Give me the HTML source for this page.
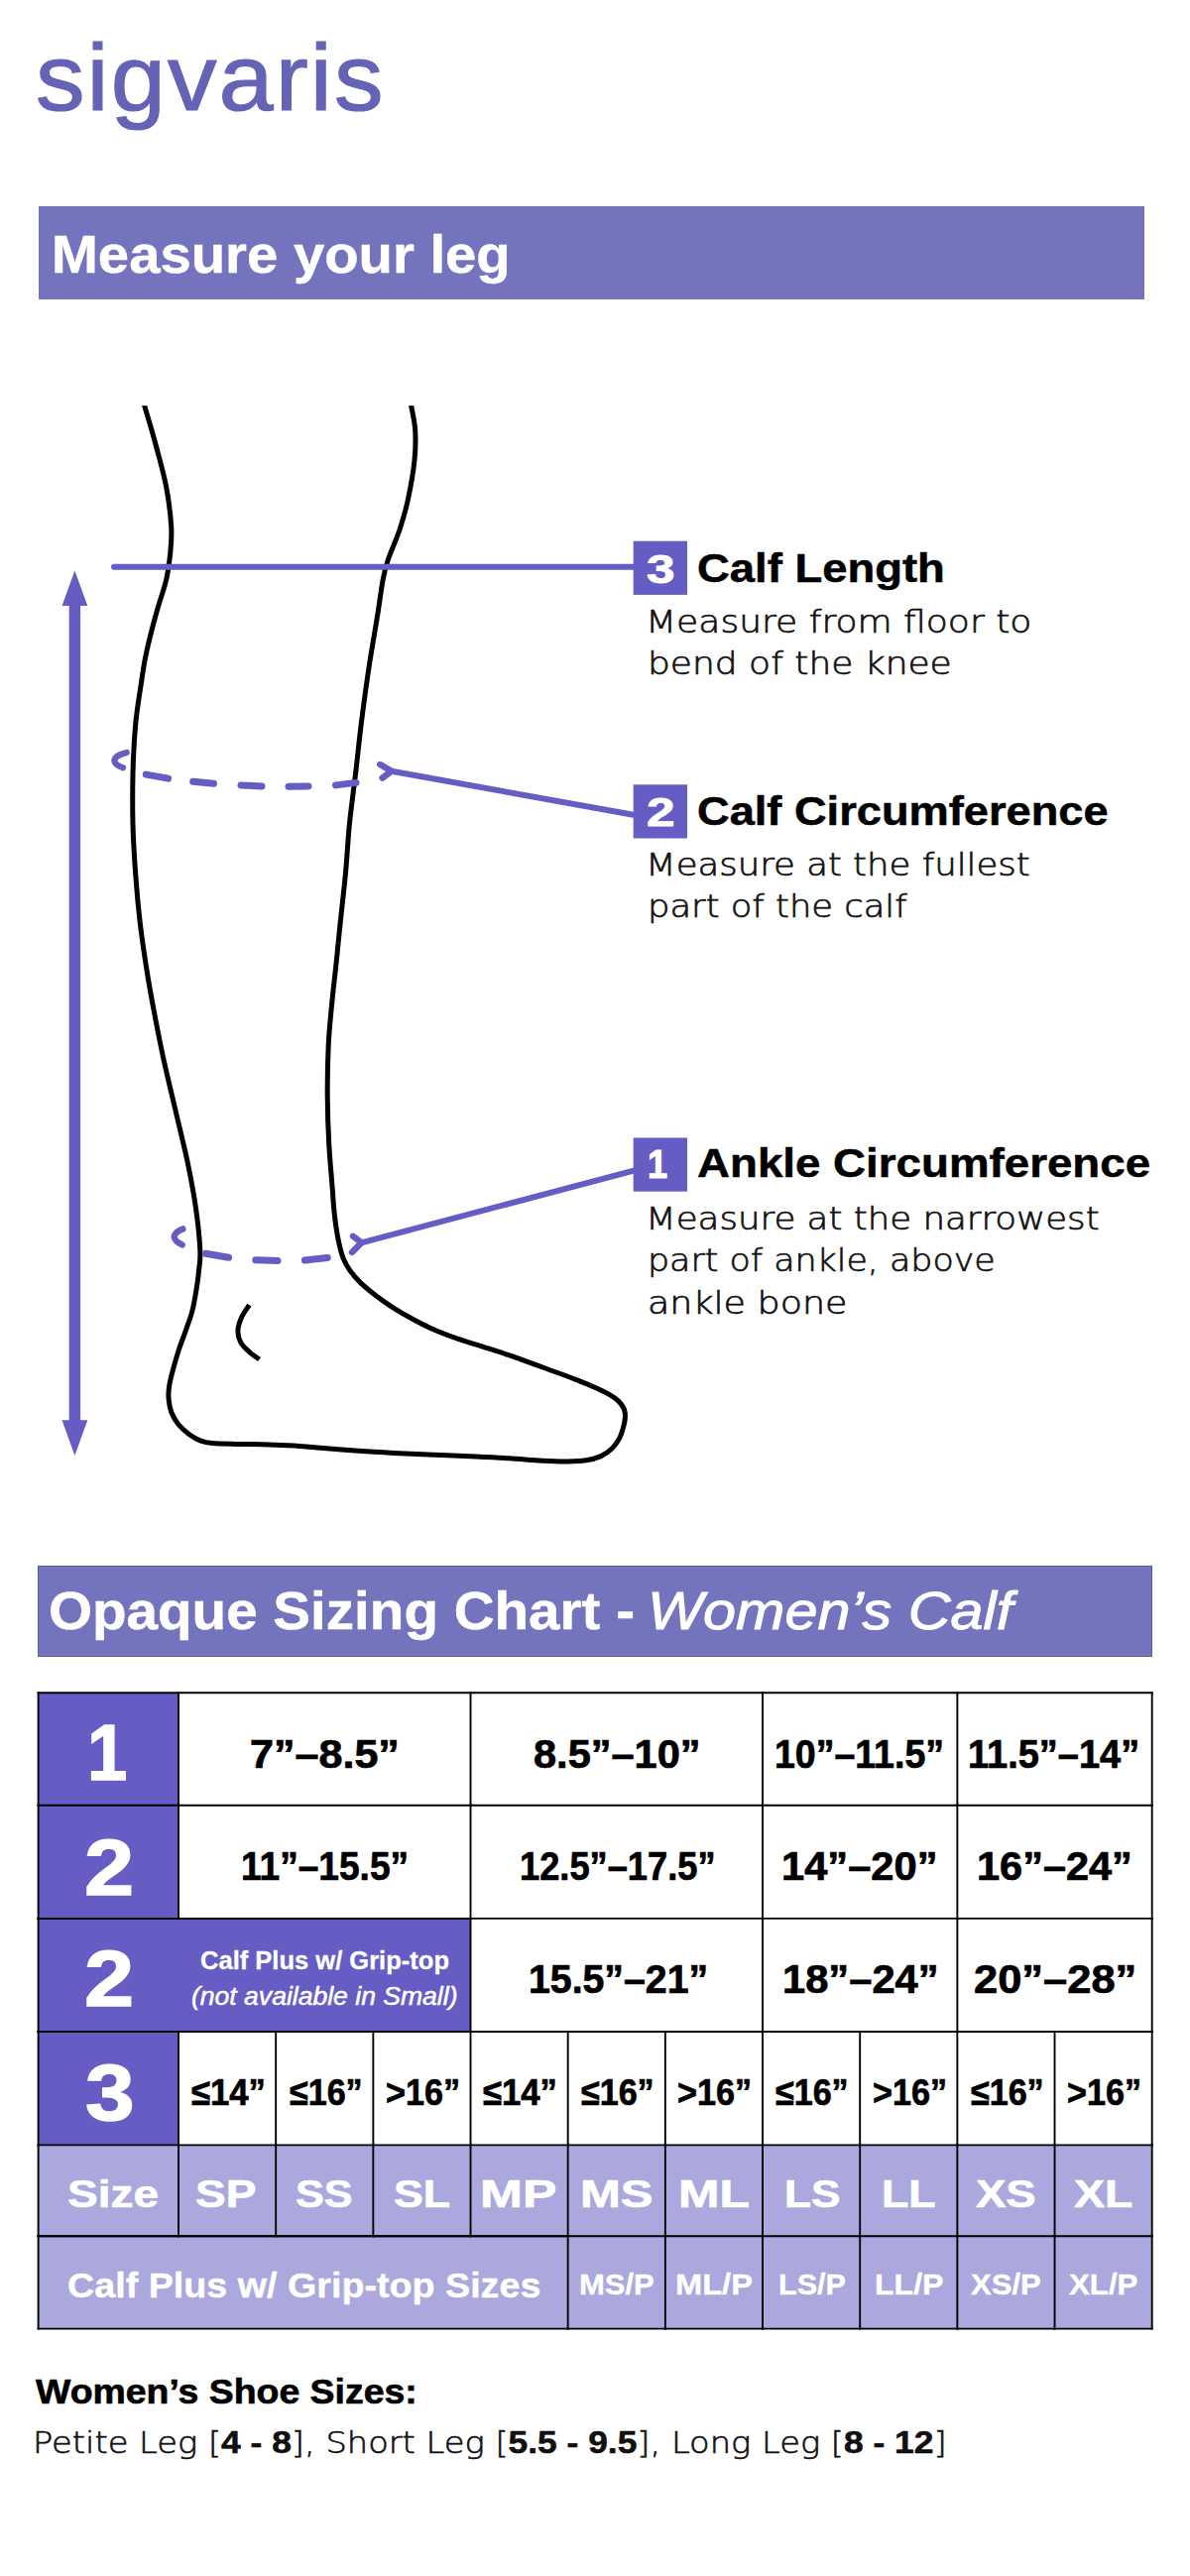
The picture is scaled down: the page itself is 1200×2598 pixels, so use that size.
<!DOCTYPE html>
<html lang="en"><head><meta charset="utf-8"><title>Sigvaris Opaque Sizing Chart - Women's Calf</title>
<style>
*{box-sizing:border-box}
html,body{margin:0;padding:0;background:#fff}
body{width:1200px;height:2598px;position:relative;overflow:hidden;font-family:'Liberation Sans', 'DejaVu Sans', sans-serif;color:#000}
.t{position:absolute;white-space:nowrap;line-height:1;transform-origin:0 50%}
.fb{font-family:'Liberation Sans', 'DejaVu Sans', sans-serif;font-weight:700;}
.fr{font-family:'Liberation Sans', 'DejaVu Sans', sans-serif;font-weight:400;}
.fbi{font-family:'Liberation Sans', 'DejaVu Sans', sans-serif;font-weight:700;font-style:italic;}
.fri{font-family:'Liberation Sans', 'DejaVu Sans', sans-serif;font-weight:400;font-style:italic;}
.fl{font-family:'DejaVu Sans Light', 'DejaVu Sans', 'Liberation Sans', sans-serif;font-weight:200;}
.fl b{font-family:'Liberation Sans', 'DejaVu Sans', sans-serif;font-weight:700;font-size:1.05em;-webkit-text-stroke:0.5px #000}
.w{color:#fff}
.k{color:#000}
.lt{color:#111}
.logo{color:#6563b6}
.banner{position:absolute;left:38px;width:1116px;background:#7473be}
.art{position:absolute;left:0;top:380px}
.tbl{position:absolute;left:0;top:1690px}
</style></head>
<body>
<div class="banner" style="left:38.5px;top:207.7px;width:1115.5px;height:94.5px"></div>
<div class="banner" style="left:37.6px;top:1578.7px;height:92.2px;width:1124.6px;border:1px solid #5e5d96"></div>
<svg class="art" width="1200" height="1150" viewBox="0 380 1200 1150">
<g fill="#655cc4" stroke="none">
<rect x="69.7" y="608" width="11.4" height="826"/>
<polygon points="75.4,575.5 88.3,611 62.5,611"/>
<polygon points="75.4,1468 88.3,1432.3 62.5,1432.3"/>
</g>
<path d="M143.2 400.5 C143.6 402.0 143.4 401.2 145.8 409.5 C148.2 417.8 154.0 436.9 157.6 450.5 C161.2 464.1 165.1 477.4 167.6 490.8 C170.1 504.2 172.0 519.8 172.7 531.0 C173.4 542.2 172.5 549.0 171.7 558.0 C170.8 567.0 169.9 574.9 167.6 585.0 C165.2 595.1 160.9 606.2 157.6 618.5 C154.2 630.8 150.0 647.0 147.5 658.8 C145.0 670.5 144.2 677.1 142.4 689.0 C140.6 700.9 138.1 715.1 136.7 730.4 C135.3 745.7 134.4 764.0 134.0 780.8 C133.6 797.6 133.6 814.4 134.0 831.2 C134.4 848.0 135.5 864.8 136.7 881.6 C137.9 898.4 139.5 915.8 141.4 932.0 C143.3 948.2 145.8 964.3 148.1 979.0 C150.4 993.7 152.5 1005.1 155.4 1020.4 C158.3 1035.7 161.8 1054.0 165.5 1070.8 C169.2 1087.6 173.4 1104.4 177.3 1121.2 C181.2 1138.0 185.6 1155.3 189.0 1171.6 C192.4 1187.8 195.4 1203.9 197.5 1218.7 C199.6 1233.5 201.3 1250.3 201.8 1260.5 C202.3 1270.7 201.3 1273.4 200.7 1280.0 C200.1 1286.6 199.2 1293.2 198.1 1300.2 C197.0 1307.2 195.7 1315.0 193.9 1322.0 C192.1 1329.0 189.4 1335.8 187.2 1342.2 C185.0 1348.7 182.6 1354.3 180.5 1360.7 C178.4 1367.1 176.2 1374.7 174.6 1380.8 C173.0 1386.9 171.4 1392.6 170.7 1397.6 C169.9 1402.6 169.7 1406.5 170.1 1411.0 C170.5 1415.5 171.3 1420.3 172.9 1424.5 C174.5 1428.7 176.8 1432.6 179.7 1436.3 C182.6 1440.0 186.8 1443.6 190.6 1446.4 C194.4 1449.2 198.5 1451.6 202.4 1453.1 C206.3 1454.6 208.2 1455.0 214.1 1455.6 C220.0 1456.1 228.1 1456.2 237.6 1456.4 C247.1 1456.6 261.4 1456.6 271.2 1456.9 C281.0 1457.2 288.3 1457.6 296.4 1458.1 C304.5 1458.6 307.9 1459.1 320.0 1460.1 C332.1 1461.0 354.2 1462.8 369.0 1463.8 C383.8 1464.8 396.1 1465.4 408.8 1466.0 C421.5 1466.6 433.1 1467.1 445.0 1467.6 C456.9 1468.1 468.6 1468.6 480.0 1469.1 C491.4 1469.6 502.4 1470.1 513.6 1470.8 C524.8 1471.5 537.4 1472.8 547.2 1473.3 C557.0 1473.8 565.1 1474.1 572.4 1474.0 C579.7 1473.9 585.3 1473.7 590.9 1472.8 C596.5 1471.9 601.6 1470.6 606.0 1468.6 C610.4 1466.6 613.9 1464.0 617.0 1461.0 C620.1 1458.0 622.5 1454.5 624.5 1450.9 C626.5 1447.3 627.7 1442.8 628.7 1439.2 C629.7 1435.6 630.3 1432.2 630.4 1429.1 C630.5 1426.0 630.3 1423.4 629.2 1420.7 C628.1 1418.0 626.2 1415.5 623.7 1413.1 C621.2 1410.7 618.2 1408.6 614.4 1406.4 C610.6 1404.2 606.6 1402.2 601.0 1399.7 C595.4 1397.2 589.8 1394.8 580.8 1391.3 C571.8 1387.8 558.4 1383.1 547.2 1379.0 C536.0 1374.9 523.5 1370.3 513.6 1366.9 C503.7 1363.5 496.5 1361.3 488.0 1358.6 C479.5 1355.9 471.2 1353.5 462.8 1350.6 C454.4 1347.7 445.7 1344.6 437.6 1341.0 C429.5 1337.4 421.1 1333.0 414.1 1329.2 C407.1 1325.4 401.5 1322.1 395.6 1318.3 C389.7 1314.5 384.1 1310.6 378.8 1306.5 C373.5 1302.4 368.0 1298.1 363.7 1293.9 C359.4 1289.7 355.8 1285.5 352.8 1281.3 C349.9 1277.1 347.8 1273.3 346.0 1268.7 C344.2 1264.1 343.0 1258.9 341.8 1253.6 C340.6 1248.3 339.6 1242.4 338.8 1236.8 C338.0 1231.2 337.4 1226.1 336.8 1220.0 C336.2 1213.9 336.1 1210.9 335.3 1200.0 C334.5 1189.1 332.7 1170.7 331.8 1154.8 C330.9 1138.9 330.3 1121.2 330.2 1104.4 C330.1 1087.6 330.5 1069.1 331.2 1054.0 C331.9 1038.9 333.2 1027.7 334.5 1013.7 C335.8 999.7 337.8 983.6 339.2 970.0 C340.6 956.4 341.5 946.7 343.0 932.0 C344.5 917.3 346.8 898.4 348.4 881.6 C350.0 864.8 350.7 848.0 352.4 831.2 C354.1 814.4 356.5 797.6 358.5 780.8 C360.5 764.0 362.1 747.2 364.2 730.4 C366.3 713.6 369.3 691.9 371.0 680.0 C372.7 668.1 372.6 669.1 374.3 658.9 C376.0 648.6 379.0 630.8 381.0 618.5 C383.0 606.2 384.4 594.0 386.1 585.0 C387.8 576.0 388.4 573.2 391.2 564.8 C394.0 556.4 399.5 544.6 402.9 534.5 C406.2 524.4 408.8 516.0 411.3 504.3 C413.8 492.6 416.8 475.8 418.0 464.0 C419.2 452.2 419.2 442.8 418.7 433.7 C418.1 424.6 415.7 415.0 414.7 409.5 C413.7 404.0 413.1 402.0 412.8 400.5" fill="none" stroke="#000" stroke-width="5" stroke-linejoin="round"/>
<rect x="120" y="395" width="320" height="14.1" fill="#fff"/>
<path d="M251.4 1316.1 C250.1 1318.2 245.4 1324.3 243.5 1328.7 C241.6 1333.1 240.0 1338.0 239.9 1342.2 C239.8 1346.4 240.8 1350.4 242.7 1353.9 C244.6 1357.4 248.0 1360.3 251.1 1363.2 C254.2 1366.1 259.8 1369.8 261.5 1371.1" fill="none" stroke="#000" stroke-width="5"/>
<g fill="none" stroke="#655cc4" stroke-width="6" stroke-linecap="round" stroke-linejoin="round">
<path d="M115 571.7 H642"/>
<path stroke-width="6.2" d="M127.7 759 C121 760.5 115.5 763.5 115.3 767 C115.3 770 119 772.5 124 774.2"/>
<path stroke-width="7" d="M147.3 781.1 L169.6 785.1"/>
<path stroke-width="7" d="M194.7 788.3 L215.5 790.2"/>
<path stroke-width="7" d="M243.0 791.9 L264.0 792.9"/>
<path stroke-width="7" d="M291.0 793.2 L311.0 792.9"/>
<path stroke-width="7" d="M338.5 791.9 L359.0 789.4"/>
<path stroke-width="6.4" d="M383.3 771 L394.8 777.8 L385.6 784.6"/>
<path d="M394.8 777.8 L640 822"/>
<path stroke-width="6.4" d="M184.4 1239.4 C179 1241.5 175.8 1244.5 175.7 1247.4 C175.8 1250.5 179 1253.2 183.7 1255.5"/>
<path stroke-width="7" d="M207.5 1264.3 L230.5 1268.3"/>
<path stroke-width="7" d="M257.8 1270.8 L280.0 1271.4"/>
<path stroke-width="7" d="M307.4 1271.0 L330.3 1268.5"/>
<path stroke-width="6.4" d="M356 1246.8 L364.5 1253.3 L355 1262.9"/>
<path d="M364.5 1253.3 L640 1180.3"/>
</g>
<rect x="638.7" y="545.7" width="54.3" height="54.2" fill="#655cc4"/>
<rect x="638.7" y="791.3" width="54.3" height="54.2" fill="#655cc4"/>
<rect x="638.7" y="1147.5" width="54.3" height="54.2" fill="#655cc4"/>
</svg>
<svg class="tbl" width="1200" height="700" viewBox="0 1690 1200 700">
<rect x="38.60" y="1707.20" width="141.40" height="113.60" fill="#655cc4"/>
<rect x="38.60" y="1820.80" width="141.40" height="114.10" fill="#655cc4"/>
<rect x="38.60" y="1934.90" width="435.91" height="114.20" fill="#655cc4"/>
<rect x="38.60" y="2049.10" width="141.40" height="114.30" fill="#655cc4"/>
<rect x="38.60" y="2163.40" width="141.40" height="91.80" fill="#aaa8dc"/>
<rect x="180.00" y="2163.40" width="98.17" height="91.80" fill="#aaa8dc"/>
<rect x="278.17" y="2163.40" width="98.17" height="91.80" fill="#aaa8dc"/>
<rect x="376.34" y="2163.40" width="98.17" height="91.80" fill="#aaa8dc"/>
<rect x="474.51" y="2163.40" width="98.17" height="91.80" fill="#aaa8dc"/>
<rect x="572.68" y="2163.40" width="98.17" height="91.80" fill="#aaa8dc"/>
<rect x="670.85" y="2163.40" width="98.17" height="91.80" fill="#aaa8dc"/>
<rect x="769.02" y="2163.40" width="98.17" height="91.80" fill="#aaa8dc"/>
<rect x="867.19" y="2163.40" width="98.17" height="91.80" fill="#aaa8dc"/>
<rect x="965.36" y="2163.40" width="98.17" height="91.80" fill="#aaa8dc"/>
<rect x="1063.53" y="2163.40" width="98.17" height="91.80" fill="#aaa8dc"/>
<rect x="38.60" y="2255.20" width="534.08" height="93.40" fill="#aaa8dc"/>
<rect x="572.68" y="2255.20" width="98.17" height="93.40" fill="#aaa8dc"/>
<rect x="670.85" y="2255.20" width="98.17" height="93.40" fill="#aaa8dc"/>
<rect x="769.02" y="2255.20" width="98.17" height="93.40" fill="#aaa8dc"/>
<rect x="867.19" y="2255.20" width="98.17" height="93.40" fill="#aaa8dc"/>
<rect x="965.36" y="2255.20" width="98.17" height="93.40" fill="#aaa8dc"/>
<rect x="1063.53" y="2255.20" width="98.17" height="93.40" fill="#aaa8dc"/>
<g stroke="#000" stroke-width="1.9" stroke-linecap="square">
<line x1="38.6" y1="1707.2" x2="38.6" y2="1820.8"/>
<line x1="38.6" y1="1707.2" x2="180.0" y2="1707.2"/>
<line x1="38.6" y1="1820.8" x2="38.6" y2="1934.9"/>
<line x1="38.6" y1="1820.8" x2="180.0" y2="1820.8"/>
<line x1="38.6" y1="1934.9" x2="38.6" y2="2049.1"/>
<line x1="38.6" y1="1934.9" x2="180.0" y2="1934.9"/>
<line x1="38.6" y1="1934.9" x2="474.51" y2="1934.9"/>
<line x1="38.6" y1="2049.1" x2="38.6" y2="2163.4"/>
<line x1="38.6" y1="2049.1" x2="180.0" y2="2049.1"/>
<line x1="38.6" y1="2049.1" x2="474.51" y2="2049.1"/>
<line x1="38.6" y1="2163.4" x2="38.6" y2="2255.2"/>
<line x1="38.6" y1="2163.4" x2="180.0" y2="2163.4"/>
<line x1="38.6" y1="2255.2" x2="38.6" y2="2348.6"/>
<line x1="38.6" y1="2255.2" x2="180.0" y2="2255.2"/>
<line x1="38.6" y1="2255.2" x2="572.68" y2="2255.2"/>
<line x1="38.6" y1="2348.6" x2="572.68" y2="2348.6"/>
<line x1="180.0" y1="1707.2" x2="180.0" y2="1820.8"/>
<line x1="180.0" y1="1707.2" x2="474.51" y2="1707.2"/>
<line x1="180.0" y1="1820.8" x2="180.0" y2="1934.9"/>
<line x1="180.0" y1="1820.8" x2="474.51" y2="1820.8"/>
<line x1="180.0" y1="1934.9" x2="474.51" y2="1934.9"/>
<line x1="180.0" y1="2049.1" x2="180.0" y2="2163.4"/>
<line x1="180.0" y1="2049.1" x2="278.17" y2="2049.1"/>
<line x1="180.0" y1="2163.4" x2="180.0" y2="2255.2"/>
<line x1="180.0" y1="2163.4" x2="278.17" y2="2163.4"/>
<line x1="180.0" y1="2255.2" x2="278.17" y2="2255.2"/>
<line x1="278.17" y1="2049.1" x2="278.17" y2="2163.4"/>
<line x1="278.17" y1="2049.1" x2="376.34" y2="2049.1"/>
<line x1="278.17" y1="2163.4" x2="278.17" y2="2255.2"/>
<line x1="278.17" y1="2163.4" x2="376.34" y2="2163.4"/>
<line x1="278.17" y1="2255.2" x2="376.34" y2="2255.2"/>
<line x1="376.34" y1="2049.1" x2="376.34" y2="2163.4"/>
<line x1="376.34" y1="2049.1" x2="474.51" y2="2049.1"/>
<line x1="376.34" y1="2163.4" x2="376.34" y2="2255.2"/>
<line x1="376.34" y1="2163.4" x2="474.51" y2="2163.4"/>
<line x1="376.34" y1="2255.2" x2="474.51" y2="2255.2"/>
<line x1="474.51" y1="1707.2" x2="474.51" y2="1820.8"/>
<line x1="474.51" y1="1707.2" x2="769.02" y2="1707.2"/>
<line x1="474.51" y1="1820.8" x2="474.51" y2="1934.9"/>
<line x1="474.51" y1="1820.8" x2="769.02" y2="1820.8"/>
<line x1="474.51" y1="1934.9" x2="474.51" y2="2049.1"/>
<line x1="474.51" y1="1934.9" x2="769.02" y2="1934.9"/>
<line x1="474.51" y1="2049.1" x2="474.51" y2="2163.4"/>
<line x1="474.51" y1="2049.1" x2="572.68" y2="2049.1"/>
<line x1="474.51" y1="2049.1" x2="769.02" y2="2049.1"/>
<line x1="474.51" y1="2163.4" x2="474.51" y2="2255.2"/>
<line x1="474.51" y1="2163.4" x2="572.68" y2="2163.4"/>
<line x1="474.51" y1="2255.2" x2="572.68" y2="2255.2"/>
<line x1="572.68" y1="2049.1" x2="572.68" y2="2163.4"/>
<line x1="572.68" y1="2049.1" x2="670.85" y2="2049.1"/>
<line x1="572.68" y1="2163.4" x2="572.68" y2="2255.2"/>
<line x1="572.68" y1="2163.4" x2="670.85" y2="2163.4"/>
<line x1="572.68" y1="2255.2" x2="572.68" y2="2348.6"/>
<line x1="572.68" y1="2255.2" x2="670.85" y2="2255.2"/>
<line x1="572.68" y1="2348.6" x2="670.85" y2="2348.6"/>
<line x1="670.85" y1="2049.1" x2="670.85" y2="2163.4"/>
<line x1="670.85" y1="2049.1" x2="769.02" y2="2049.1"/>
<line x1="670.85" y1="2163.4" x2="670.85" y2="2255.2"/>
<line x1="670.85" y1="2163.4" x2="769.02" y2="2163.4"/>
<line x1="670.85" y1="2255.2" x2="670.85" y2="2348.6"/>
<line x1="670.85" y1="2255.2" x2="769.02" y2="2255.2"/>
<line x1="670.85" y1="2348.6" x2="769.02" y2="2348.6"/>
<line x1="769.02" y1="1707.2" x2="769.02" y2="1820.8"/>
<line x1="769.02" y1="1707.2" x2="965.36" y2="1707.2"/>
<line x1="769.02" y1="1820.8" x2="769.02" y2="1934.9"/>
<line x1="769.02" y1="1820.8" x2="965.36" y2="1820.8"/>
<line x1="769.02" y1="1934.9" x2="769.02" y2="2049.1"/>
<line x1="769.02" y1="1934.9" x2="965.36" y2="1934.9"/>
<line x1="769.02" y1="2049.1" x2="769.02" y2="2163.4"/>
<line x1="769.02" y1="2049.1" x2="867.19" y2="2049.1"/>
<line x1="769.02" y1="2049.1" x2="965.36" y2="2049.1"/>
<line x1="769.02" y1="2163.4" x2="769.02" y2="2255.2"/>
<line x1="769.02" y1="2163.4" x2="867.19" y2="2163.4"/>
<line x1="769.02" y1="2255.2" x2="769.02" y2="2348.6"/>
<line x1="769.02" y1="2255.2" x2="867.19" y2="2255.2"/>
<line x1="769.02" y1="2348.6" x2="867.19" y2="2348.6"/>
<line x1="867.19" y1="2049.1" x2="867.19" y2="2163.4"/>
<line x1="867.19" y1="2049.1" x2="965.36" y2="2049.1"/>
<line x1="867.19" y1="2163.4" x2="867.19" y2="2255.2"/>
<line x1="867.19" y1="2163.4" x2="965.36" y2="2163.4"/>
<line x1="867.19" y1="2255.2" x2="867.19" y2="2348.6"/>
<line x1="867.19" y1="2255.2" x2="965.36" y2="2255.2"/>
<line x1="867.19" y1="2348.6" x2="965.36" y2="2348.6"/>
<line x1="965.36" y1="1707.2" x2="965.36" y2="1820.8"/>
<line x1="965.36" y1="1707.2" x2="1161.7" y2="1707.2"/>
<line x1="965.36" y1="1820.8" x2="965.36" y2="1934.9"/>
<line x1="965.36" y1="1820.8" x2="1161.7" y2="1820.8"/>
<line x1="965.36" y1="1934.9" x2="965.36" y2="2049.1"/>
<line x1="965.36" y1="1934.9" x2="1161.7" y2="1934.9"/>
<line x1="965.36" y1="2049.1" x2="965.36" y2="2163.4"/>
<line x1="965.36" y1="2049.1" x2="1063.53" y2="2049.1"/>
<line x1="965.36" y1="2049.1" x2="1161.7" y2="2049.1"/>
<line x1="965.36" y1="2163.4" x2="965.36" y2="2255.2"/>
<line x1="965.36" y1="2163.4" x2="1063.53" y2="2163.4"/>
<line x1="965.36" y1="2255.2" x2="965.36" y2="2348.6"/>
<line x1="965.36" y1="2255.2" x2="1063.53" y2="2255.2"/>
<line x1="965.36" y1="2348.6" x2="1063.53" y2="2348.6"/>
<line x1="1063.53" y1="2049.1" x2="1063.53" y2="2163.4"/>
<line x1="1063.53" y1="2049.1" x2="1161.7" y2="2049.1"/>
<line x1="1063.53" y1="2163.4" x2="1063.53" y2="2255.2"/>
<line x1="1063.53" y1="2163.4" x2="1161.7" y2="2163.4"/>
<line x1="1063.53" y1="2255.2" x2="1063.53" y2="2348.6"/>
<line x1="1063.53" y1="2255.2" x2="1161.7" y2="2255.2"/>
<line x1="1063.53" y1="2348.6" x2="1161.7" y2="2348.6"/>
<line x1="1161.7" y1="1707.2" x2="1161.7" y2="1820.8"/>
<line x1="1161.7" y1="1820.8" x2="1161.7" y2="1934.9"/>
<line x1="1161.7" y1="1934.9" x2="1161.7" y2="2049.1"/>
<line x1="1161.7" y1="2049.1" x2="1161.7" y2="2163.4"/>
<line x1="1161.7" y1="2163.4" x2="1161.7" y2="2255.2"/>
<line x1="1161.7" y1="2255.2" x2="1161.7" y2="2348.6"/>
</g></svg>
<div class="t fr logo" style="left:36.41px;top:31.17px;font-size:95px;transform:scaleX(1.0429);letter-spacing:2px;-webkit-text-stroke:1.2px #6563b6;">sigvaris</div>
<div class="t fb w" style="left:52.13px;top:229.28px;font-size:54px;transform:scaleX(1.0417);-webkit-text-stroke:0.5px #fff;">Measure your leg</div>
<div class="t fb w" style="left:48.86px;top:1596.78px;font-size:54px;transform:scaleX(1.0478);-webkit-text-stroke:0.5px #fff;">Opaque Sizing Chart -</div>
<div class="t fri w" style="left:652.51px;top:1596.78px;font-size:54px;transform:scaleX(1.0988);-webkit-text-stroke:1px #fff;">Women’s Calf</div>
<div class="t fb w" style="left:651.63px;top:554.14px;font-size:40px;transform:scaleX(1.2833);-webkit-text-stroke:0.8px #fff;">3</div>
<div class="t fb k" style="left:702.68px;top:553.34px;font-size:40.7px;transform:scaleX(1.1163);-webkit-text-stroke:0.5px #000;">Calf Length</div>
<div class="t fl lt" style="left:650.72px;top:612.39px;font-size:31.2px;transform:scaleX(1.1561);-webkit-text-stroke:0.65px #111;">Measure from floor to</div>
<div class="t fl lt" style="left:653.04px;top:654.19px;font-size:31.2px;transform:scaleX(1.1544);-webkit-text-stroke:0.65px #111;">bend of the knee</div>
<div class="t fb w" style="left:651.63px;top:799.14px;font-size:40px;transform:scaleX(1.2833);-webkit-text-stroke:0.8px #fff;">2</div>
<div class="t fb k" style="left:702.69px;top:798.34px;font-size:40.7px;transform:scaleX(1.1111);-webkit-text-stroke:0.5px #000;">Calf Circumference</div>
<div class="t fl lt" style="left:650.81px;top:857.19px;font-size:31.2px;transform:scaleX(1.1383);-webkit-text-stroke:0.65px #111;">Measure at the fullest</div>
<div class="t fl lt" style="left:653.10px;top:899.19px;font-size:31.2px;transform:scaleX(1.1333);-webkit-text-stroke:0.65px #111;">part of the calf</div>
<div class="t fb w" style="left:652.90px;top:1154.04px;font-size:40px;transform:scaleX(0.9000);-webkit-text-stroke:1.1px #fff;">1</div>
<div class="t fb k" style="left:702.68px;top:1153.34px;font-size:40.7px;transform:scaleX(1.1230);-webkit-text-stroke:0.5px #000;">Ankle Circumference</div>
<div class="t fl lt" style="left:650.79px;top:1213.59px;font-size:31.2px;transform:scaleX(1.1415);-webkit-text-stroke:0.65px #111;">Measure at the narrowest</div>
<div class="t fl lt" style="left:653.15px;top:1256.49px;font-size:31.2px;transform:scaleX(1.1168);-webkit-text-stroke:0.65px #111;">part of ankle, above</div>
<div class="t fl lt" style="left:652.96px;top:1299.39px;font-size:31.2px;transform:scaleX(1.1679);-webkit-text-stroke:0.65px #111;">ankle bone</div>
<div class="t fb k" style="left:36.00px;top:2395.25px;font-size:34.2px;transform:scaleX(1.0948);-webkit-text-stroke:0.6px #000;">Women’s Shoe Sizes:</div>
<div class="t fl lt ft" style="left:33.45px;top:2448.03px;font-size:30.2px;transform:scaleX(1.1161);-webkit-text-stroke:0.6px #111;">Petite Leg [<b>4 - 8</b>], Short Leg [<b>5.5 - 9.5</b>], Long Leg [<b>8 - 12</b>]</div>
<div class="t fb w" style="left:87.65px;top:1726.55px;font-size:80.5px;transform:scaleX(0.9000);-webkit-text-stroke:1.5px #fff;">1</div>
<div class="t fb w" style="left:85.42px;top:1842.55px;font-size:80.5px;transform:scaleX(1.1189);-webkit-text-stroke:1.5px #fff;">2</div>
<div class="t fb w" style="left:85.42px;top:1955.45px;font-size:80.5px;transform:scaleX(1.1189);-webkit-text-stroke:1.5px #fff;">2</div>
<div class="t fb w" style="left:85.88px;top:2069.85px;font-size:80.5px;transform:scaleX(1.1079);-webkit-text-stroke:1.5px #fff;">3</div>
<div class="t fb w" style="left:202.19px;top:1965.48px;font-size:25.3px;transform:scaleX(1.0089);-webkit-text-stroke:0.3px #fff;">Calf Plus w/ Grip-top</div>
<div class="t fri w" style="left:193.40px;top:2001.38px;font-size:25.3px;transform:scaleX(1.0492);-webkit-text-stroke:0.5px #fff;">(not available in Small)</div>
<div class="t fb k" style="left:252.02px;top:1749.51px;font-size:39.8px;transform:scaleX(1.0824);-webkit-text-stroke:0.7px #000;">7”–8.5”</div>
<div class="t fb k" style="left:538.46px;top:1749.51px;font-size:39.8px;transform:scaleX(1.0437);-webkit-text-stroke:0.7px #000;">8.5”–10”</div>
<div class="t fb k" style="left:780.62px;top:1749.51px;font-size:39.8px;transform:scaleX(0.9424);-webkit-text-stroke:0.7px #000;">10”–11.5”</div>
<div class="t fb k" style="left:976.09px;top:1749.51px;font-size:39.8px;transform:scaleX(0.9542);-webkit-text-stroke:0.7px #000;">11.5”–14”</div>
<div class="t fb k" style="left:242.64px;top:1863.21px;font-size:39.8px;transform:scaleX(0.9316);-webkit-text-stroke:0.7px #000;">11”–15.5”</div>
<div class="t fb k" style="left:523.58px;top:1863.21px;font-size:39.8px;transform:scaleX(0.9108);-webkit-text-stroke:0.7px #000;">12.5”–17.5”</div>
<div class="t fb k" style="left:787.91px;top:1863.21px;font-size:39.8px;transform:scaleX(1.0466);-webkit-text-stroke:0.7px #000;">14”–20”</div>
<div class="t fb k" style="left:985.12px;top:1863.21px;font-size:39.8px;transform:scaleX(1.0425);-webkit-text-stroke:0.7px #000;">16”–24”</div>
<div class="t fb k" style="left:532.73px;top:1977.31px;font-size:39.8px;transform:scaleX(0.9860);-webkit-text-stroke:0.7px #000;">15.5”–21”</div>
<div class="t fb k" style="left:788.51px;top:1977.31px;font-size:39.8px;transform:scaleX(1.0473);-webkit-text-stroke:0.7px #000;">18”–24”</div>
<div class="t fb k" style="left:981.91px;top:1977.31px;font-size:39.8px;transform:scaleX(1.0918);-webkit-text-stroke:0.7px #000;">20”–28”</div>
<div class="t fb k" style="left:192.78px;top:2092.35px;font-size:37.5px;transform:scaleX(0.9241);-webkit-text-stroke:0.7px #000;">≤14”</div>
<div class="t fb k" style="left:291.56px;top:2092.35px;font-size:37.5px;transform:scaleX(0.9089);-webkit-text-stroke:0.7px #000;">≤16”</div>
<div class="t fb k" style="left:388.71px;top:2092.35px;font-size:37.5px;transform:scaleX(0.9114);-webkit-text-stroke:0.7px #000;">&gt;16”</div>
<div class="t fb k" style="left:487.30px;top:2092.35px;font-size:37.5px;transform:scaleX(0.9241);-webkit-text-stroke:0.7px #000;">≤14”</div>
<div class="t fb k" style="left:586.07px;top:2092.35px;font-size:37.5px;transform:scaleX(0.9089);-webkit-text-stroke:0.7px #000;">≤16”</div>
<div class="t fb k" style="left:683.22px;top:2092.35px;font-size:37.5px;transform:scaleX(0.9114);-webkit-text-stroke:0.7px #000;">&gt;16”</div>
<div class="t fb k" style="left:782.41px;top:2092.35px;font-size:37.5px;transform:scaleX(0.9089);-webkit-text-stroke:0.7px #000;">≤16”</div>
<div class="t fb k" style="left:879.56px;top:2092.35px;font-size:37.5px;transform:scaleX(0.9114);-webkit-text-stroke:0.7px #000;">&gt;16”</div>
<div class="t fb k" style="left:978.75px;top:2092.35px;font-size:37.5px;transform:scaleX(0.9089);-webkit-text-stroke:0.7px #000;">≤16”</div>
<div class="t fb k" style="left:1075.90px;top:2092.35px;font-size:37.5px;transform:scaleX(0.9114);-webkit-text-stroke:0.7px #000;">&gt;16”</div>
<div class="t fb w" style="left:67.97px;top:2193.17px;font-size:39.6px;transform:scaleX(1.1627);-webkit-text-stroke:0.7px #fff;">Size</div>
<div class="t fb w" style="left:197.47px;top:2193.17px;font-size:39.6px;transform:scaleX(1.1633);-webkit-text-stroke:0.7px #fff;">SP</div>
<div class="t fb w" style="left:298.42px;top:2193.17px;font-size:39.6px;transform:scaleX(1.0898);-webkit-text-stroke:0.7px #fff;">SS</div>
<div class="t fb w" style="left:397.14px;top:2193.17px;font-size:39.6px;transform:scaleX(1.1277);-webkit-text-stroke:0.7px #fff;">SL</div>
<div class="t fb w" style="left:483.69px;top:2193.17px;font-size:39.6px;transform:scaleX(1.3018);-webkit-text-stroke:0.7px #fff;">MP</div>
<div class="t fb w" style="left:585.49px;top:2193.17px;font-size:39.6px;transform:scaleX(1.2352);-webkit-text-stroke:0.7px #fff;">MS</div>
<div class="t fb w" style="left:684.43px;top:2193.17px;font-size:39.6px;transform:scaleX(1.2566);-webkit-text-stroke:0.7px #fff;">ML</div>
<div class="t fb w" style="left:790.96px;top:2193.17px;font-size:39.6px;transform:scaleX(1.1130);-webkit-text-stroke:0.7px #fff;">LS</div>
<div class="t fb w" style="left:888.81px;top:2193.17px;font-size:39.6px;transform:scaleX(1.1295);-webkit-text-stroke:0.7px #fff;">LL</div>
<div class="t fb w" style="left:984.35px;top:2193.17px;font-size:39.6px;transform:scaleX(1.1480);-webkit-text-stroke:0.7px #fff;">XS</div>
<div class="t fb w" style="left:1083.23px;top:2193.17px;font-size:39.6px;transform:scaleX(1.1750);-webkit-text-stroke:0.7px #fff;">XL</div>
<div class="t fb w" style="left:68.15px;top:2286.67px;font-size:35px;transform:scaleX(1.0766);-webkit-text-stroke:0.4px #fff;">Calf Plus w/ Grip-top Sizes</div>
<div class="t fb w" style="left:583.52px;top:2288.67px;font-size:29.8px;transform:scaleX(1.0406);-webkit-text-stroke:0.4px #fff;">MS/P</div>
<div class="t fb w" style="left:680.81px;top:2288.67px;font-size:29.8px;transform:scaleX(1.0941);-webkit-text-stroke:0.4px #fff;">ML/P</div>
<div class="t fb w" style="left:784.55px;top:2288.67px;font-size:29.8px;transform:scaleX(1.0254);-webkit-text-stroke:0.4px #fff;">LS/P</div>
<div class="t fb w" style="left:881.85px;top:2288.67px;font-size:29.8px;transform:scaleX(1.0754);-webkit-text-stroke:0.4px #fff;">LL/P</div>
<div class="t fb w" style="left:979.26px;top:2288.67px;font-size:29.8px;transform:scaleX(1.0415);-webkit-text-stroke:0.4px #fff;">XS/P</div>
<div class="t fb w" style="left:1077.75px;top:2288.67px;font-size:29.8px;transform:scaleX(1.0484);-webkit-text-stroke:0.4px #fff;">XL/P</div>
</body></html>
